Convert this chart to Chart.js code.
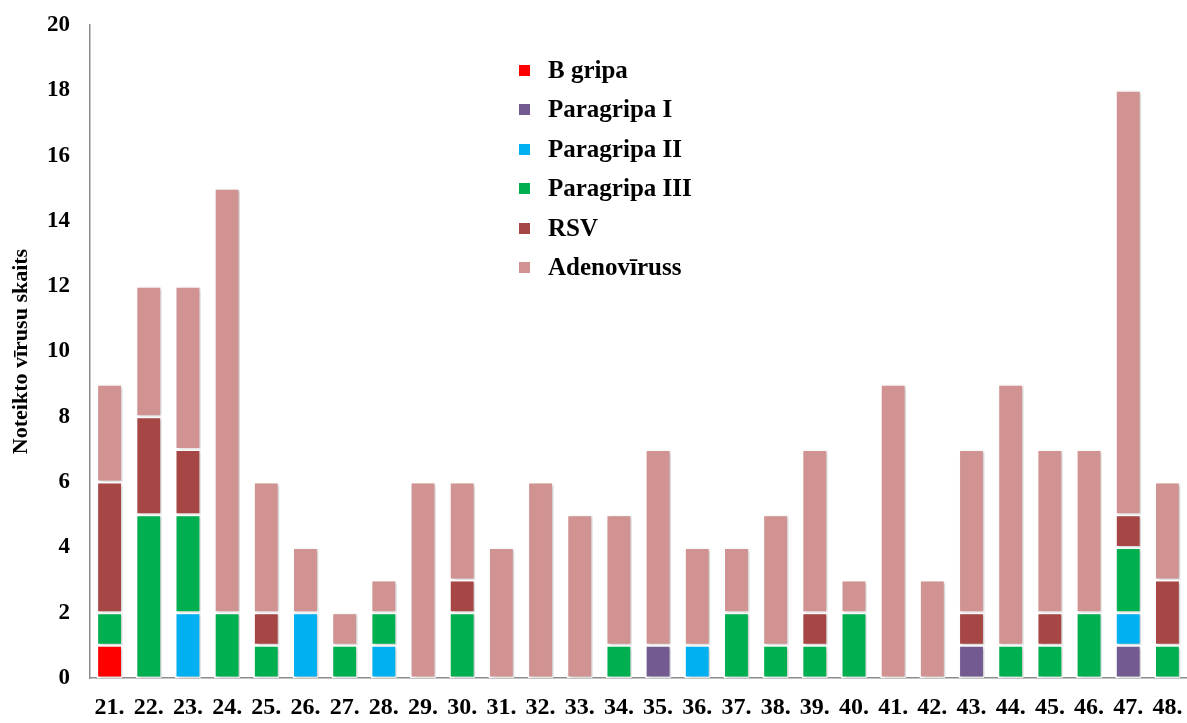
<!DOCTYPE html>
<html>
<head>
<meta charset="utf-8">
<script src="https://cdn.jsdelivr.net/npm/chart.js@4/dist/chart.umd.min.js"></script>
<style>
  body { margin: 0; background: #fff; }
  #wrap { position: relative; width: 1187px; height: 723px; }
  #legend { position: absolute; left: 519px; top: 50px; font-family: "Liberation Serif", "Times New Roman", serif; font-weight: bold; font-size: 25px; }
  #legend div { height: 39.4px; line-height: 39.4px; white-space: nowrap; }
  #legend span { display: inline-block; width: 11px; height: 11px; margin-right: 18px; vertical-align: 2px; }
</style>
</head>
<body>
<div id="wrap">
  <canvas id="virusChart" width="1187" height="723"></canvas>
  <div id="legend"></div>
</div>
<script>
const weeks = ["21.", "22.", "23.", "24.", "25.", "26.", "27.", "28.", "29.", "30.", "31.", "32.", "33.", "34.",
               "35.", "36.", "37.", "38.", "39.", "40.", "41.", "42.", "43.", "44.", "45.", "46.", "47.", "48."];
const bGripa     = [1, 0, 0, 0, 0, 0, 0, 0, 0, 0, 0, 0, 0, 0, 0, 0, 0, 0, 0, 0, 0, 0, 0, 0, 0, 0, 0, 0];
const paragripa1 = [0, 0, 0, 0, 0, 0, 0, 0, 0, 0, 0, 0, 0, 0, 1, 0, 0, 0, 0, 0, 0, 0, 1, 0, 0, 0, 1, 0];
const paragripa2 = [0, 0, 2, 0, 0, 2, 0, 1, 0, 0, 0, 0, 0, 0, 0, 1, 0, 0, 0, 0, 0, 0, 0, 0, 0, 0, 1, 0];
const paragripa3 = [1, 5, 3, 2, 1, 0, 1, 1, 0, 2, 0, 0, 0, 1, 0, 0, 2, 1, 1, 2, 0, 0, 0, 1, 1, 2, 2, 1];
const rsv        = [4, 3, 2, 0, 1, 0, 0, 0, 0, 1, 0, 0, 0, 0, 0, 0, 0, 0, 1, 0, 0, 0, 1, 0, 1, 0, 1, 2];
const adeno      = [3, 4, 5, 13, 4, 2, 1, 1, 6, 3, 4, 6, 5, 4, 6, 3, 2, 4, 5, 1, 9, 3, 5, 8, 5, 5, 13, 3];

const seriesNames = ["B gripa", "Paragripa I", "Paragripa II", "Paragripa III", "RSV", "Adenovīruss"];
const seriesColors = ["#FF0000", "#735A91", "#00B0F0", "#00B050", "#A64745", "#D19392"];
const seriesData = [bGripa, paragripa1, paragripa2, paragripa3, rsv, adeno];

const fontFam = "'Liberation Serif', 'Times New Roman', serif";

// stabiņu ēna kā oriģinālā
const shadowPlugin = {
  id: 'barShadow',
  beforeDatasetsDraw(chart) {
    const c = chart.ctx;
    c.save();
    c.shadowColor = 'rgba(0,0,0,0.22)';
    c.shadowBlur = 3;
    c.shadowOffsetX = 2;
    c.shadowOffsetY = 1;
  },
  afterDatasetsDraw(chart) {
    chart.ctx.restore();
  }
};

const ctx = document.getElementById("virusChart").getContext('2d');
const chart = new Chart(ctx, {
  type: 'bar',
  data: {
    labels: weeks,
    datasets: seriesNames.map((name, i) => ({
      label: name,
      data: seriesData[i],
      backgroundColor: seriesColors[i],
      borderColor: '#ffffff',
      borderWidth: 1.5,
      borderSkipped: false,
      barPercentage: 0.66,
      categoryPercentage: 1
    }))
  },
  options: {
    responsive: false,
    animation: false,
    devicePixelRatio: 1,
    layout: { padding: { top: 25, right: 0, left: 0, bottom: 0 } },
    plugins: {
      legend: { display: false },
      tooltip: { enabled: false }
    },
    scales: {
      x: {
        stacked: true,
        grid: { display: false, drawTicks: false },
        border: { color: '#8c8c8c', width: 1.5 },
        ticks: { color: '#000', padding: 15, maxRotation: 0, autoSkip: false,
                 font: { family: fontFam, size: 24, weight: 'bold' } },
        afterFit(s) { s.height = 45; s.paddingLeft = 0; s.paddingRight = 0; }
      },
      y: {
        stacked: true,
        min: 0,
        max: 20,
        grid: { display: false, drawTicks: false },
        border: { color: '#8c8c8c', width: 1.5 },
        ticks: { stepSize: 2, color: '#000', padding: 20,
                 font: { family: fontFam, size: 23, weight: 'bold' } },
        title: { display: true, text: 'Noteikto vīrusu skaits', color: '#000', padding: { top: 8, bottom: 0 },
                 font: { family: fontFam, size: 22, weight: 'bold' } },
        afterFit(s) { s.width = 90; s.paddingTop = 0; s.paddingBottom = 0; }
      }
    }
  },
  plugins: [shadowPlugin]
});

// leģenda
const legendBox = document.getElementById("legend");
seriesNames.forEach((name, i) => {
  const row = document.createElement("div");
  row.innerHTML = '<span style="background:' + seriesColors[i] + '"></span>' + name;
  legendBox.appendChild(row);
});
</script>
</body>
</html>
